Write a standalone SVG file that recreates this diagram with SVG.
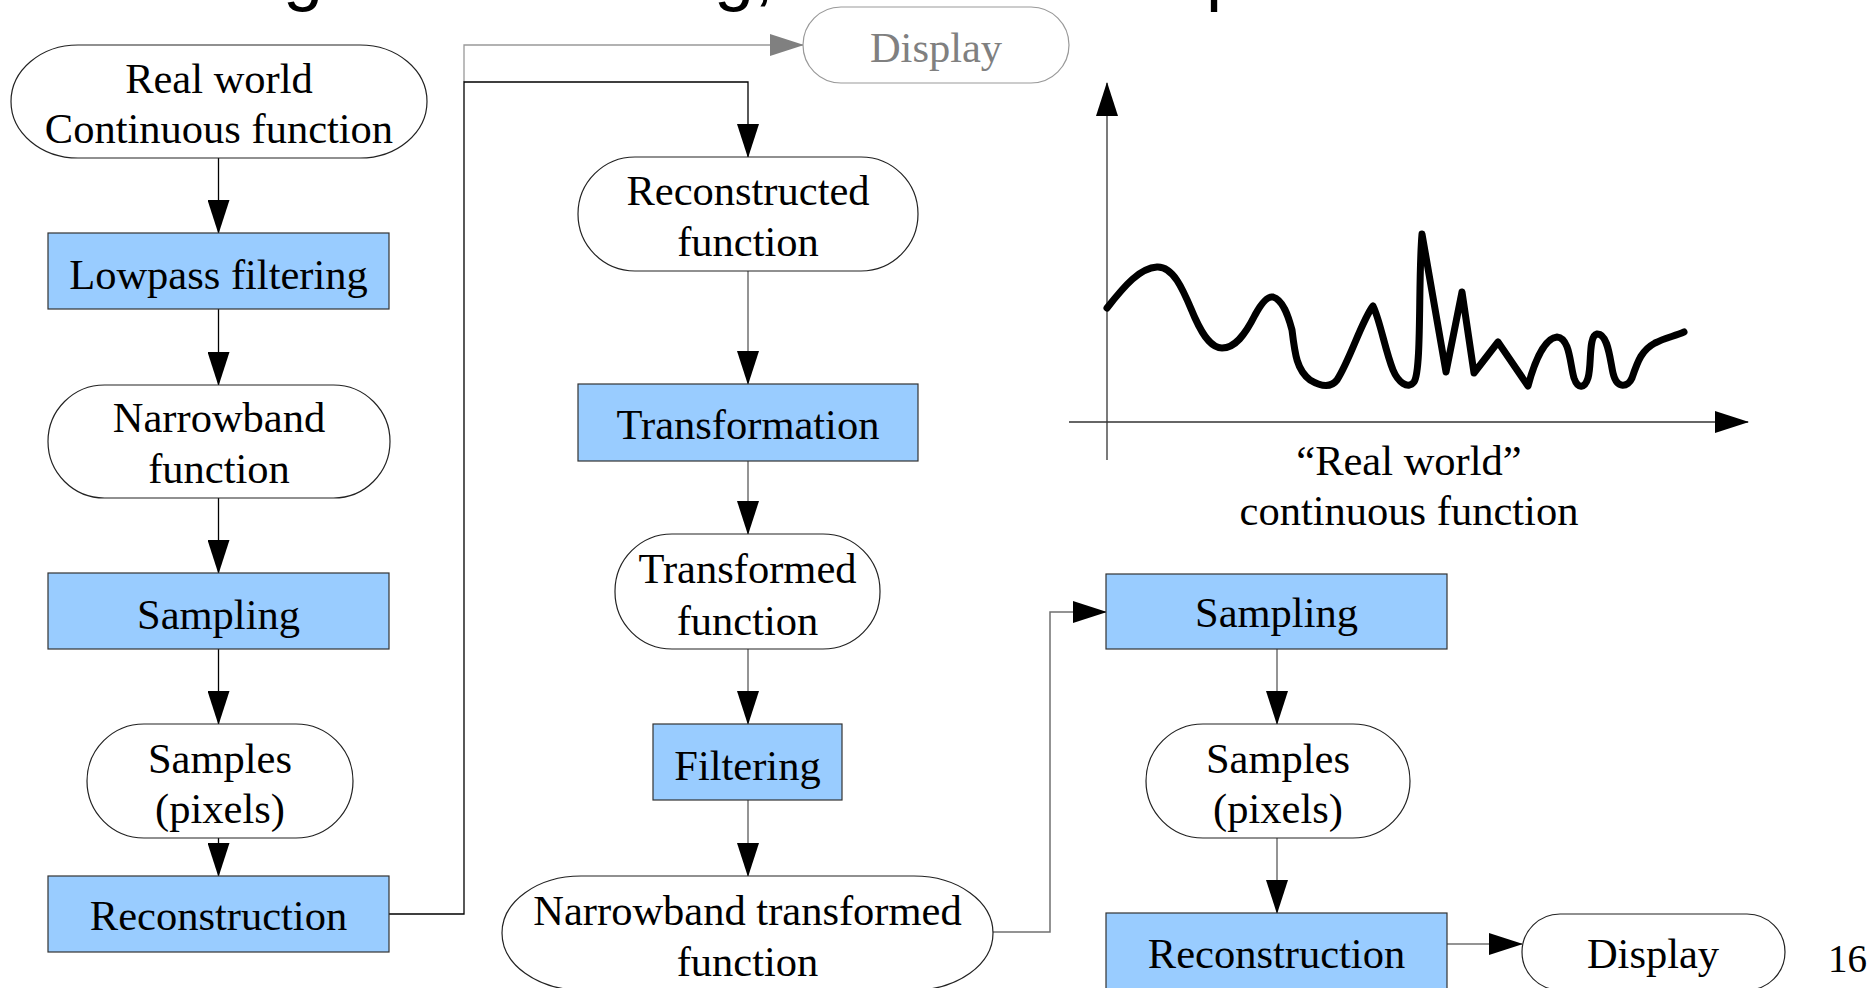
<svg xmlns="http://www.w3.org/2000/svg" width="1868" height="988" viewBox="0 0 1868 988">
<defs>
<style>
text{font-family:"Liberation Serif","Times New Roman",serif;font-size:42.5px;fill:#000;text-anchor:middle}
.title{font-family:"Liberation Sans",Arial,sans-serif;font-size:72px;text-anchor:start}
.term{fill:#fff;stroke:#222;stroke-width:1.2}
.proc{fill:#99ccff;stroke:#333;stroke-width:1.2}
.ghost{fill:#fff;stroke:#999;stroke-width:1.2}
.ghost-t{fill:#808080}
.cb{fill:none;stroke:#000;stroke-width:1.3}
.cg{fill:none;stroke:#707070;stroke-width:1.5}
.cl{fill:none;stroke:#999;stroke-width:1.3}
.axis{fill:none;stroke:#333;stroke-width:1.3}
.curve{fill:none;stroke:#000;stroke-width:7;stroke-linejoin:round;stroke-linecap:round}
</style>
<marker id="ah" markerUnits="userSpaceOnUse" markerWidth="34" markerHeight="22" viewBox="0 0 34 22" refX="33" refY="11" orient="auto"><path d="M0,0 L34,11 L0,22 z" fill="#000"/></marker>
<marker id="ahg" markerUnits="userSpaceOnUse" markerWidth="34" markerHeight="22" viewBox="0 0 34 22" refX="33" refY="11" orient="auto"><path d="M0,0 L34,11 L0,22 z" fill="#808080"/></marker>
</defs>
<rect width="1868" height="988" fill="#fff"/>
<g id="title-fragment">
<text class="title" x="283" y="-3">g</text>
<text class="title" x="714" y="-3">g,</text>
<text class="title" x="1206" y="-3">p</text>
</g>
<g id="connectors">
<path class="cb" d="M218.5,158 V233" marker-end="url(#ah)"/>
<path class="cb" d="M218.5,309 V385" marker-end="url(#ah)"/>
<path class="cb" d="M218.5,498 V573" marker-end="url(#ah)"/>
<path class="cb" d="M218.5,649 V724" marker-end="url(#ah)"/>
<path class="cb" d="M218.5,838 V876" marker-end="url(#ah)"/>
<path class="cl" d="M464,82 V45 H803" marker-end="url(#ahg)"/>
<path class="cb" d="M389,914 H464 V82 H748 V157" marker-end="url(#ah)"/>
<path class="cg" d="M748,271 V384" marker-end="url(#ah)"/>
<path class="cg" d="M748,461 V534" marker-end="url(#ah)"/>
<path class="cg" d="M748,649 V724" marker-end="url(#ah)"/>
<path class="cg" d="M748,800 V876" marker-end="url(#ah)"/>
<path class="cg" d="M993,932 H1050 V612 H1106" marker-end="url(#ah)"/>
<path class="cg" d="M1277,649 V724" marker-end="url(#ah)"/>
<path class="cg" d="M1277,838 V913" marker-end="url(#ah)"/>
<path class="cg" d="M1447,944 H1522" marker-end="url(#ah)"/>
</g>
<g id="real-world">
<rect class="term" x="11" y="45" width="416" height="113" rx="67" ry="56.5"/>
<text x="219" y="93">Real world</text>
<text x="219" y="143">Continuous function</text>
</g>
<g id="lowpass-filtering">
<rect class="proc" x="48" y="233" width="341" height="76"/>
<text x="218.5" y="289">Lowpass filtering</text>
</g>
<g id="narrowband-function">
<rect class="term" x="48" y="385" width="342" height="113" rx="56.5"/>
<text x="219" y="432">Narrowband</text>
<text x="219" y="483">function</text>
</g>
<g id="sampling-1">
<rect class="proc" x="48" y="573" width="341" height="76"/>
<text x="218.5" y="629">Sampling</text>
</g>
<g id="samples-1">
<rect class="term" x="87" y="724" width="266" height="114" rx="57"/>
<text x="220" y="773">Samples</text>
<text x="220" y="823">(pixels)</text>
</g>
<g id="reconstruction-1">
<rect class="proc" x="48" y="876" width="341" height="76"/>
<text x="218.5" y="930">Reconstruction</text>
</g>
<g id="display-top">
<rect class="ghost" x="803" y="7" width="266" height="76" rx="38"/>
<text class="ghost-t" x="936" y="62">Display</text>
</g>
<g id="reconstructed-function">
<rect class="term" x="578" y="157" width="340" height="114" rx="57"/>
<text x="748" y="205">Reconstructed</text>
<text x="748" y="256">function</text>
</g>
<g id="transformation">
<rect class="proc" x="578" y="384" width="340" height="77"/>
<text x="748" y="439">Transformation</text>
</g>
<g id="transformed-function">
<rect class="term" x="615" y="534" width="265" height="115" rx="57"/>
<text x="747.5" y="583">Transformed</text>
<text x="747.5" y="635">function</text>
</g>
<g id="filtering">
<rect class="proc" x="653" y="724" width="189" height="76"/>
<text x="747.5" y="780">Filtering</text>
</g>
<g id="narrowband-transformed-function">
<rect class="term" x="502" y="876" width="491" height="114" rx="79" ry="57"/>
<text x="747.5" y="925">Narrowband transformed</text>
<text x="747.5" y="976">function</text>
</g>
<g id="sampling-2">
<rect class="proc" x="1106" y="574" width="341" height="75"/>
<text x="1276.5" y="627">Sampling</text>
</g>
<g id="samples-2">
<rect class="term" x="1146" y="724" width="264" height="114" rx="57"/>
<text x="1278" y="773">Samples</text>
<text x="1278" y="823">(pixels)</text>
</g>
<g id="reconstruction-2">
<rect class="proc" x="1106" y="913" width="341" height="77"/>
<text x="1276.5" y="968">Reconstruction</text>
</g>
<g id="display-2">
<rect class="term" x="1522" y="914" width="263" height="76" rx="38"/>
<text x="1653" y="968">Display</text>
</g>
<g id="graph">
<path class="axis" d="M1107,460 V83" marker-end="url(#ah)"/>
<path class="axis" d="M1069,422 H1748" marker-end="url(#ah)"/>
<path class="curve" d="M1107,308 C1125,285 1140,268 1157,267 C1175,266 1185,295 1195,318 C1205,340 1213,348 1222,348 C1235,348 1245,335 1255,315 C1262,302 1268,296 1273,297 C1283,300 1288,315 1292,330 C1295,355 1297,370 1310,380 C1320,386 1330,389 1337,380 C1350,360 1362,320 1373,306 C1380,320 1385,350 1393,370 C1398,382 1408,390 1414,382 C1422,370 1418,280 1422,234 L1446,372 L1462,292 L1474,373 L1498,342 L1528,386 C1535,360 1545,338 1557,337 C1570,338 1570,365 1574,378 C1578,390 1585,388 1588,378 C1592,365 1588,336 1597,334 C1608,333 1610,360 1613,373 C1617,390 1628,387 1632,378 C1638,360 1642,350 1655,343 C1665,338 1675,336 1684,332"/>
<text x="1409" y="475">“Real world”</text>
<text x="1409" y="525">continuous function</text>
</g>
<g id="page-number">
<text x="1828" y="972" style="text-anchor:start;font-size:39px">16</text>
</g>
</svg>
